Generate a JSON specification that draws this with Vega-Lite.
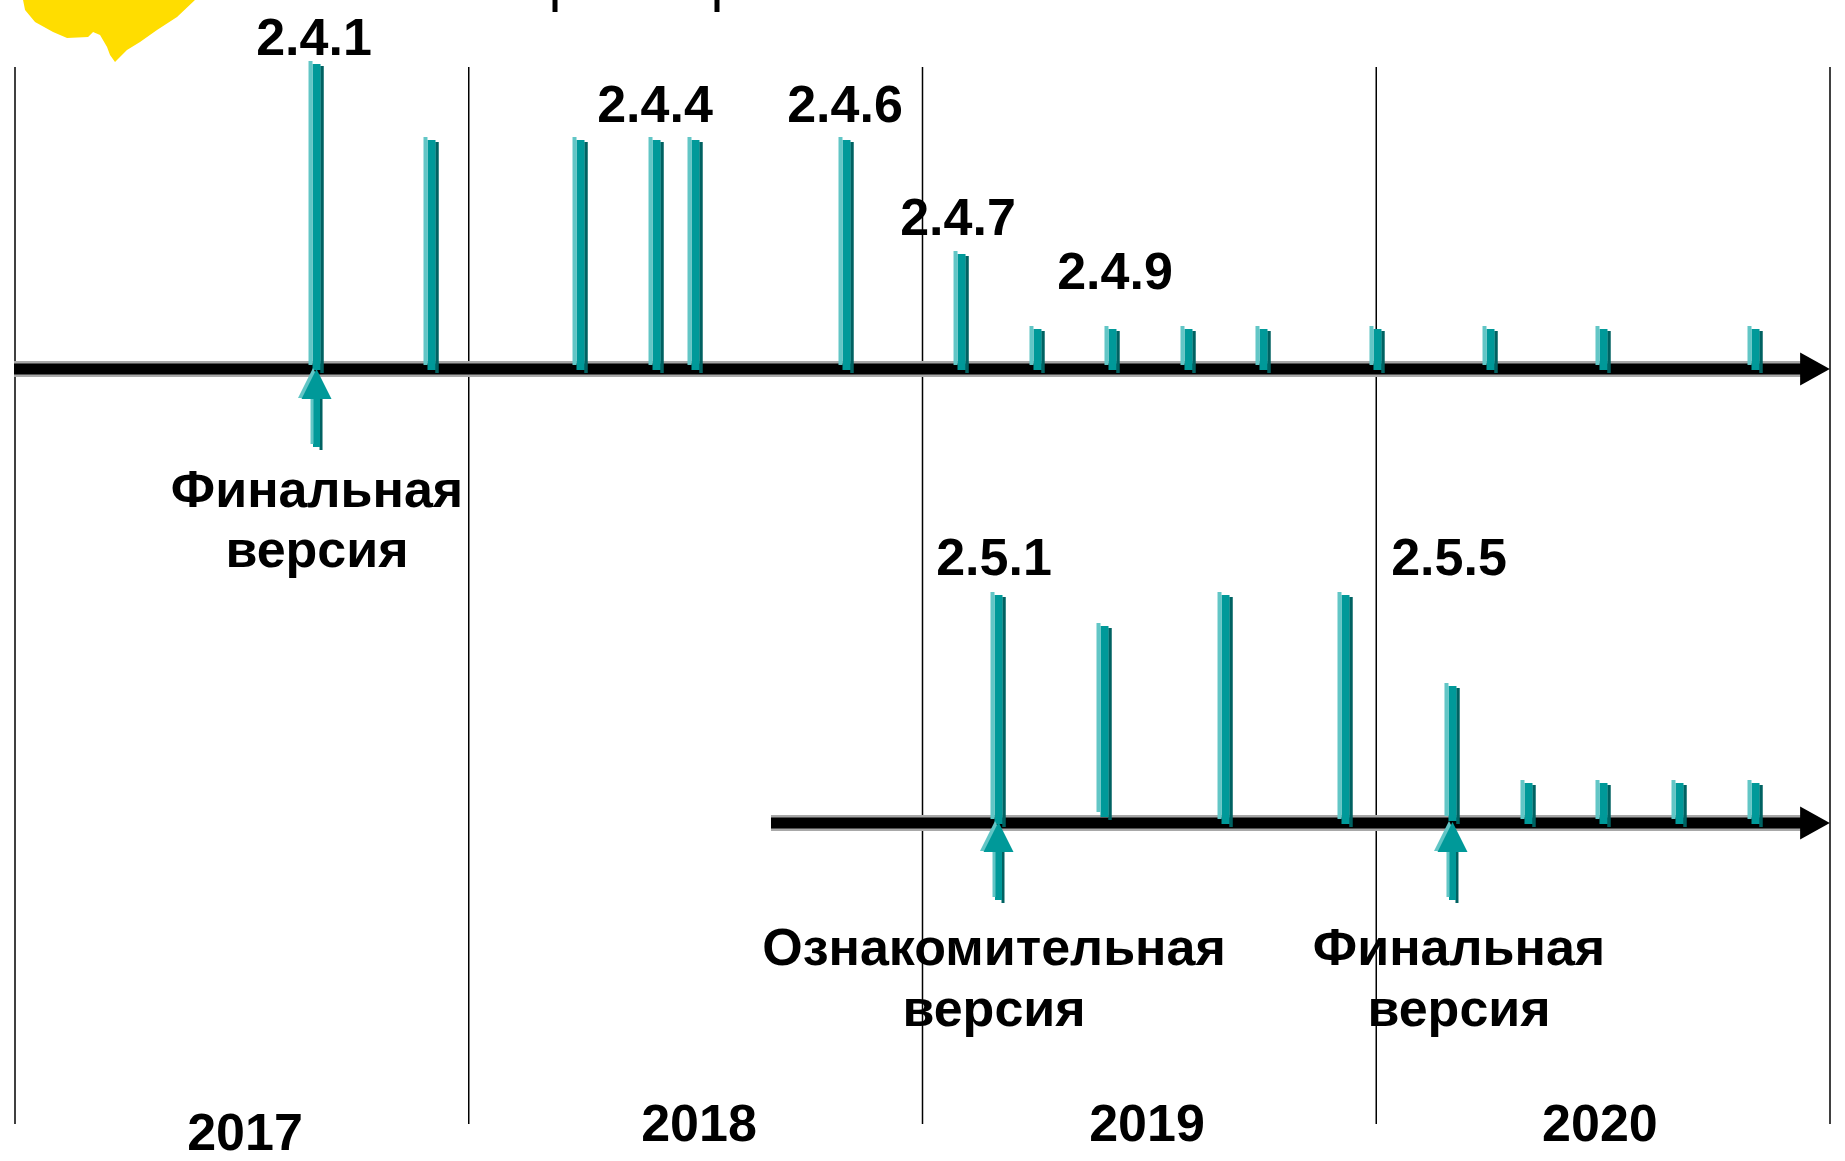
{
  "$schema": "https://vega.github.io/schema/vega-lite/v6.json",
  "width": 1845,
  "height": 1161,
  "padding": 0,
  "autosize": {"type": "none"},
  "background": "white",
  "config": {"view": {"stroke": null}},
  "datasets": {
    "blob": [{"date": 2017.2094, "y": 30}],
    "fragments": [
      {"date": 2018.1901, "top": 0, "bottom": 12},
      {"date": 2018.5471, "top": 0, "bottom": 12}
    ],
    "years": [
      {"year": 2017, "top": 67, "bottom": 1124},
      {"year": 2018, "top": 67, "bottom": 1124},
      {"year": 2019, "top": 67, "bottom": 1124},
      {"year": 2020, "top": 67, "bottom": 1124},
      {"year": 2021, "top": 67, "bottom": 1124}
    ],
    "tracks": [
      {"track": "2.4", "start": 2016.9978, "end": 2020.9449, "head": 2020.9669, "y": 369},
      {"track": "2.5", "start": 2018.6661, "end": 2020.9449, "head": 2020.9669, "y": 823}
    ],
    "bars": [
      {"track": "2.4", "date": 2017.6634, "top": 63, "base": 369},
      {"track": "2.4", "date": 2017.9168, "top": 139, "base": 369},
      {"track": "2.4", "date": 2018.2452, "top": 139, "base": 369},
      {"track": "2.4", "date": 2018.4127, "top": 139, "base": 369},
      {"track": "2.4", "date": 2018.4986, "top": 139, "base": 369},
      {"track": "2.4", "date": 2018.8314, "top": 139, "base": 369},
      {"track": "2.4", "date": 2019.0849, "top": 253, "base": 369},
      {"track": "2.4", "date": 2019.2523, "top": 328, "base": 369},
      {"track": "2.4", "date": 2019.4176, "top": 328, "base": 369},
      {"track": "2.4", "date": 2019.5851, "top": 328, "base": 369},
      {"track": "2.4", "date": 2019.7504, "top": 328, "base": 369},
      {"track": "2.4", "date": 2020.0016, "top": 328, "base": 369},
      {"track": "2.4", "date": 2020.2507, "top": 328, "base": 369},
      {"track": "2.4", "date": 2020.4997, "top": 328, "base": 369},
      {"track": "2.4", "date": 2020.8347, "top": 328, "base": 369},
      {"track": "2.5", "date": 2019.1664, "top": 594, "base": 823},
      {"track": "2.5", "date": 2019.4000, "top": 625, "base": 816},
      {"track": "2.5", "date": 2019.6667, "top": 594, "base": 823},
      {"track": "2.5", "date": 2019.9311, "top": 594, "base": 823},
      {"track": "2.5", "date": 2020.1669, "top": 685, "base": 820},
      {"track": "2.5", "date": 2020.3344, "top": 782, "base": 823},
      {"track": "2.5", "date": 2020.4997, "top": 782, "base": 823},
      {"track": "2.5", "date": 2020.6672, "top": 782, "base": 823},
      {"track": "2.5", "date": 2020.8347, "top": 782, "base": 823}
    ],
    "markers": [
      {"kind": "Финальная версия 2.4", "date": 2017.6634, "head": 384, "top": 396, "bottom": 447},
      {"kind": "Ознакомительная версия 2.5", "date": 2019.1664, "head": 837, "top": 849, "bottom": 900},
      {"kind": "Финальная версия 2.5", "date": 2020.1669, "head": 837, "top": 849, "bottom": 900}
    ],
    "labels": [
      {"text": "2.4.1", "date": 2017.6589, "y": 55},
      {"text": "2.4.4", "date": 2018.4105, "y": 122},
      {"text": "2.4.6", "date": 2018.8292, "y": 122},
      {"text": "2.4.7", "date": 2019.0782, "y": 235},
      {"text": "2.4.9", "date": 2019.4242, "y": 289},
      {"text": "2.5.1", "date": 2019.1576, "y": 575},
      {"text": "2.5.5", "date": 2020.1603, "y": 575},
      {"text": "Финальная", "date": 2017.6655, "y": 507},
      {"text": "версия", "date": 2017.6655, "y": 567},
      {"text": "Ознакомительная", "date": 2019.1576, "y": 965},
      {"text": "версия", "date": 2019.1576, "y": 1026},
      {"text": "Финальная", "date": 2020.1824, "y": 965},
      {"text": "версия", "date": 2020.1824, "y": 1026},
      {"text": "2017", "date": 2017.5069, "y": 1150},
      {"text": "2018", "date": 2018.5074, "y": 1141},
      {"text": "2019", "date": 2019.4947, "y": 1141},
      {"text": "2020", "date": 2020.4930, "y": 1141}
    ]
  },
  "layer": [
    {
      "data": {"name": "blob"},
      "mark": {"type": "point", "filled": true, "opacity": 1, "color": "#FFDD00", "size": 30625,
        "shape": "M-1.05,-0.75L1.25,-0.75L0.971,-0.343L0.766,-0.149L0.537,0L0.343,0.137L0.194,0.229L0.114,0.309L0.057,0.366L0,0.286L-0.034,0.194L-0.114,0.057L-0.194,0.023L-0.251,0.08L-0.491,0.091L-0.651,0.023L-0.857,-0.091L-0.971,-0.229L-0.994,-0.343Z"},
      "encoding": {
        "x": {"field": "date", "type": "quantitative", "scale": {"domain": [2016.96694, 2021.03306], "nice": false, "zero": false}, "axis": null},
        "y": {"field": "y", "type": "quantitative", "scale": {"domain": [0, 1161], "reverse": true, "nice": false, "zero": false}, "axis": null}
      }
    },
    {
      "data": {"name": "fragments"},
      "mark": {"type": "rule", "color": "black", "strokeWidth": 5},
      "encoding": {
        "x": {"field": "date", "type": "quantitative", "scale": {"domain": [2016.96694, 2021.03306], "nice": false, "zero": false}, "axis": null},
        "y": {"field": "top", "type": "quantitative", "scale": {"domain": [0, 1161], "reverse": true, "nice": false, "zero": false}, "axis": null},
        "y2": {"field": "bottom"}
      }
    },
    {
      "data": {"name": "years"},
      "mark": {"type": "rule", "color": "black", "strokeWidth": 1.5},
      "encoding": {
        "x": {"field": "year", "type": "quantitative", "scale": {"domain": [2016.96694, 2021.03306], "nice": false, "zero": false}, "axis": null},
        "y": {"field": "top", "type": "quantitative", "scale": {"domain": [0, 1161], "reverse": true, "nice": false, "zero": false}, "axis": null},
        "y2": {"field": "bottom"}
      }
    },
    {
      "data": {"name": "tracks"},
      "mark": {"type": "rule", "color": "#a8a8a8", "strokeWidth": 16},
      "encoding": {
        "x": {"field": "start", "type": "quantitative", "scale": {"domain": [2016.96694, 2021.03306], "nice": false, "zero": false}, "axis": null},
        "x2": {"field": "end"},
        "y": {"field": "y", "type": "quantitative", "scale": {"domain": [0, 1161], "reverse": true, "nice": false, "zero": false}, "axis": null}
      }
    },
    {
      "data": {"name": "tracks"},
      "mark": {"type": "rule", "color": "black", "strokeWidth": 11},
      "encoding": {
        "x": {"field": "start", "type": "quantitative", "scale": {"domain": [2016.96694, 2021.03306], "nice": false, "zero": false}, "axis": null},
        "x2": {"field": "end"},
        "y": {"field": "y", "type": "quantitative", "scale": {"domain": [0, 1161], "reverse": true, "nice": false, "zero": false}, "axis": null}
      }
    },
    {
      "data": {"name": "tracks"},
      "mark": {"type": "point", "filled": true, "opacity": 1, "color": "black", "size": 1089, "shape": "M-0.9,-1L0.9,0L-0.9,1Z"},
      "encoding": {
        "x": {"field": "head", "type": "quantitative", "scale": {"domain": [2016.96694, 2021.03306], "nice": false, "zero": false}, "axis": null},
        "y": {"field": "y", "type": "quantitative", "scale": {"domain": [0, 1161], "reverse": true, "nice": false, "zero": false}, "axis": null}
      }
    },
    {
      "data": {"name": "bars"},
      "mark": {"type": "rule", "color": "#006262", "strokeWidth": 3.5, "xOffset": 6, "yOffset": 3, "y2Offset": 4},
      "encoding": {
        "x": {"field": "date", "type": "quantitative", "scale": {"domain": [2016.96694, 2021.03306], "nice": false, "zero": false}, "axis": null},
        "y": {"field": "top", "type": "quantitative", "scale": {"domain": [0, 1161], "reverse": true, "nice": false, "zero": false}, "axis": null},
        "y2": {"field": "base"}
      }
    },
    {
      "data": {"name": "bars"},
      "mark": {"type": "rule", "color": "#009999", "strokeWidth": 8, "xOffset": 0.5, "yOffset": 1, "y2Offset": 1},
      "encoding": {
        "x": {"field": "date", "type": "quantitative", "scale": {"domain": [2016.96694, 2021.03306], "nice": false, "zero": false}, "axis": null},
        "y": {"field": "top", "type": "quantitative", "scale": {"domain": [0, 1161], "reverse": true, "nice": false, "zero": false}, "axis": null},
        "y2": {"field": "base"}
      }
    },
    {
      "data": {"name": "bars"},
      "mark": {"type": "rule", "color": "#62C6C6", "strokeWidth": 4, "xOffset": -5.5, "yOffset": -2, "y2Offset": -4},
      "encoding": {
        "x": {"field": "date", "type": "quantitative", "scale": {"domain": [2016.96694, 2021.03306], "nice": false, "zero": false}, "axis": null},
        "y": {"field": "top", "type": "quantitative", "scale": {"domain": [0, 1161], "reverse": true, "nice": false, "zero": false}, "axis": null},
        "y2": {"field": "base"}
      }
    },
    {
      "data": {"name": "markers"},
      "mark": {"type": "rule", "color": "#006262", "strokeWidth": 3, "xOffset": 5, "yOffset": 2, "y2Offset": 3},
      "encoding": {
        "x": {"field": "date", "type": "quantitative", "scale": {"domain": [2016.96694, 2021.03306], "nice": false, "zero": false}, "axis": null},
        "y": {"field": "top", "type": "quantitative", "scale": {"domain": [0, 1161], "reverse": true, "nice": false, "zero": false}, "axis": null},
        "y2": {"field": "bottom"}
      }
    },
    {
      "data": {"name": "markers"},
      "mark": {"type": "rule", "color": "#009999", "strokeWidth": 7, "xOffset": 0.5},
      "encoding": {
        "x": {"field": "date", "type": "quantitative", "scale": {"domain": [2016.96694, 2021.03306], "nice": false, "zero": false}, "axis": null},
        "y": {"field": "top", "type": "quantitative", "scale": {"domain": [0, 1161], "reverse": true, "nice": false, "zero": false}, "axis": null},
        "y2": {"field": "bottom"}
      }
    },
    {
      "data": {"name": "markers"},
      "mark": {"type": "rule", "color": "#62C6C6", "strokeWidth": 3, "xOffset": -4, "yOffset": -1, "y2Offset": -3},
      "encoding": {
        "x": {"field": "date", "type": "quantitative", "scale": {"domain": [2016.96694, 2021.03306], "nice": false, "zero": false}, "axis": null},
        "y": {"field": "top", "type": "quantitative", "scale": {"domain": [0, 1161], "reverse": true, "nice": false, "zero": false}, "axis": null},
        "y2": {"field": "bottom"}
      }
    },
    {
      "data": {"name": "markers"},
      "mark": {"type": "point", "filled": true, "opacity": 1, "color": "#62C6C6", "size": 900, "shape": "M0,-1L1,1L-1,1Z", "xOffset": -3, "yOffset": -1},
      "encoding": {
        "x": {"field": "date", "type": "quantitative", "scale": {"domain": [2016.96694, 2021.03306], "nice": false, "zero": false}, "axis": null},
        "y": {"field": "head", "type": "quantitative", "scale": {"domain": [0, 1161], "reverse": true, "nice": false, "zero": false}, "axis": null}
      }
    },
    {
      "data": {"name": "markers"},
      "mark": {"type": "point", "filled": true, "opacity": 1, "color": "#009999", "size": 900, "shape": "M0,-1L1,1L-1,1Z", "xOffset": 0.5},
      "encoding": {
        "x": {"field": "date", "type": "quantitative", "scale": {"domain": [2016.96694, 2021.03306], "nice": false, "zero": false}, "axis": null},
        "y": {"field": "head", "type": "quantitative", "scale": {"domain": [0, 1161], "reverse": true, "nice": false, "zero": false}, "axis": null}
      }
    },
    {
      "data": {"name": "labels"},
      "mark": {"type": "text", "font": "Liberation Sans", "fontWeight": "bold", "fontSize": 52, "align": "center", "baseline": "alphabetic", "color": "black"},
      "encoding": {
        "x": {"field": "date", "type": "quantitative", "scale": {"domain": [2016.96694, 2021.03306], "nice": false, "zero": false}, "axis": null},
        "y": {"field": "y", "type": "quantitative", "scale": {"domain": [0, 1161], "reverse": true, "nice": false, "zero": false}, "axis": null},
        "text": {"field": "text", "type": "nominal"}
      }
    }
  ]
}
